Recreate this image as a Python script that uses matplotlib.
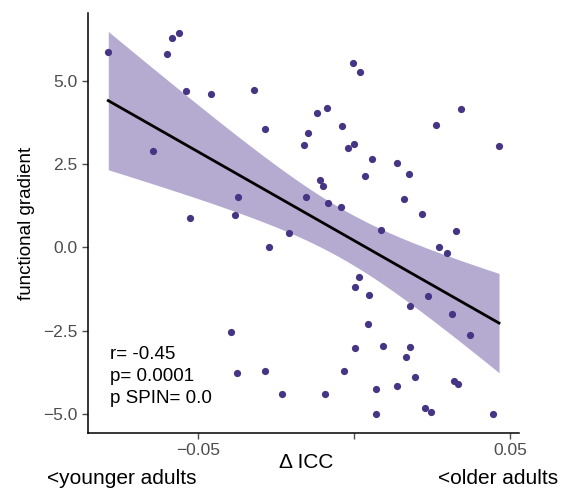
import numpy as np
import matplotlib
matplotlib.use("Agg")
import matplotlib.pyplot as plt

# ΔICC per region (x) and functional gradient score (y)
delta_icc = [
    -0.0788, -0.0599, -0.0583, -0.0561, -0.0538, -0.0458, -0.0321, -0.0285,
    -0.0644, -0.0372, -0.0526, -0.0381, -0.0208, -0.0272, -0.0003, 0.0019,
    0.0343, -0.0087, -0.0119, -0.0038, 0.0263, -0.0147, -0.0160, -0.0019,
    0.0000, 0.0465, 0.0058, 0.0138, 0.0176, 0.0035, -0.0109, -0.0099,
    -0.0154, -0.0083, -0.0042, 0.0160, 0.0218, 0.0087, 0.0327, 0.0272,
    -0.0394, -0.0375, -0.0285, -0.0231, 0.0298, 0.0016, 0.0003, 0.0048,
    0.0237, 0.0179, 0.0314, 0.0045, 0.0372, 0.0003, 0.0093, 0.0179,
    0.0167, -0.0032, 0.0196, -0.0093, 0.0071, 0.0138, 0.0321, 0.0333,
    0.0228, 0.0247, 0.0071, 0.0446,
]
gradient = [
    5.87, 5.81, 6.29, 6.44, 4.70, 4.61, 4.73, 3.56,
    2.90, 1.52, 0.89, 0.98, 0.44, 0.02, 5.54, 5.27,
    4.16, 4.19, 4.04, 3.65, 3.68, 3.44, 3.08, 2.99,
    3.11, 3.05, 2.66, 2.54, 2.21, 2.15, 2.03, 1.85,
    1.52, 1.34, 1.22, 1.46, 1.01, 0.53, 0.50, 0.02,
    -2.54, -3.77, -3.71, -4.40, -0.17, -0.89, -1.19, -1.43,
    -1.46, -1.76, -2.00, -2.30, -2.63, -3.02, -2.96, -2.99,
    -3.29, -3.71, -3.89, -4.40, -4.25, -4.16, -4.01, -4.10,
    -4.82, -4.94, -5.00, -5.00,
]

x_ticks = [-0.05, 0.0, 0.05]
x_tick_labels = ["\u22120.05", "", "0.05"]
y_ticks = [-5.0, -2.5, 0.0, 2.5, 5.0]
y_tick_labels = ["\u22125.0", "\u22122.5", "0.0", "2.5", "5.0"]
stats_text = "r= -0.45\np= 0.0001\np SPIN= 0.0"

plt.rcParams["font.family"] = ["Liberation Sans", "DejaVu Sans"]

x = np.asarray(delta_icc)
y = np.asarray(gradient)

# ordinary least squares fit with a 95% confidence band
n = len(x)
slope, intercept = np.polyfit(x, y, 1)
xs = np.linspace(x.min(), x.max(), 200)
fit = intercept + slope * xs
resid = y - (intercept + slope * x)
s = np.sqrt(np.sum(resid ** 2) / (n - 2))
sxx = np.sum((x - x.mean()) ** 2)
t_crit = 1.997  # t(0.975, df=66)
half = t_crit * s * np.sqrt(1.0 / n + (xs - x.mean()) ** 2 / sxx)

fig = plt.figure(figsize=(5.70, 4.93), dpi=100)
ax = fig.add_axes([88 / 570, 1 - 433 / 493, (519 - 88) / 570, (433 - 13) / 493])

ax.fill_between(xs, fit - half, fit + half, color="#B5ABD1", linewidth=0, zorder=1)
ax.scatter(x, y, s=27, color="#463584", linewidths=0, zorder=2)
ax.plot(xs, fit, color="black", linewidth=2.0, zorder=3)

ax.set_xlim(-0.0853, 0.0529)
ax.set_ylim(-5.57, 7.04)

for side in ("top", "right"):
    ax.spines[side].set_visible(False)
for side in ("left", "bottom"):
    ax.spines[side].set_color("black")
    ax.spines[side].set_linewidth(1.1)

ax.set_xticks(x_ticks)
ax.set_xticklabels(x_tick_labels)
ax.set_yticks(y_ticks)
ax.set_yticklabels(y_tick_labels)
ax.tick_params(axis="both", colors="#4D4D4D", labelsize=12.5, length=4, width=1.0,
               labelcolor="#4D4D4D")

ax.set_ylabel("functional gradient", fontsize=13.5, color="black", labelpad=6)

ax.text(0.05, 0.207, stats_text, transform=ax.transAxes, fontsize=13.5,
        va="top", ha="left", linespacing=1.4, color="black")

fig.text(306 / 570, 1 - 462 / 493, "\u0394 ICC", fontsize=15, ha="center",
         va="center", color="black")
fig.text(47 / 570, 1 - 478 / 493, "<younger adults", fontsize=15, ha="left",
         va="center", color="black")
fig.text(558 / 570, 1 - 478 / 493, "<older adults", fontsize=15, ha="right",
         va="center", color="black")

fig.savefig("out.png", dpi=100)
